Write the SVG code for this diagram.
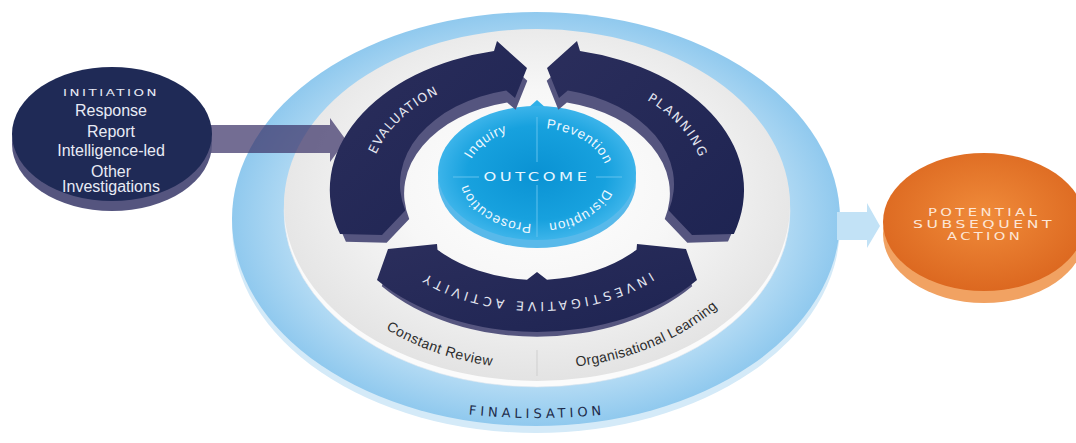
<svg xmlns="http://www.w3.org/2000/svg" width="1076" height="443" viewBox="0 0 1076 443">
<defs>
  <radialGradient id="gRing" cx="0.5" cy="0.5" r="0.5">
    <stop offset="0" stop-color="#d4ebf9"/>
    <stop offset="0.8" stop-color="#b4dbf4"/>
    <stop offset="1" stop-color="#90c9ee"/>
  </radialGradient>
  <radialGradient id="gDisc" cx="0.5" cy="0.45" r="0.55">
    <stop offset="0" stop-color="#ffffff"/>
    <stop offset="0.5" stop-color="#f7f7f7"/>
    <stop offset="1" stop-color="#e3e3e3"/>
  </radialGradient>
  <linearGradient id="gNavy" x1="0" y1="0" x2="1" y2="1">
    <stop offset="0" stop-color="#2b2e5c"/>
    <stop offset="1" stop-color="#1e2452"/>
  </linearGradient>
  <radialGradient id="gBlue" cx="0.5" cy="0.5" r="0.5">
    <stop offset="0" stop-color="#0a92d3"/>
    <stop offset="0.7" stop-color="#17a1de"/>
    <stop offset="1" stop-color="#3cb4ea"/>
  </radialGradient>
  <radialGradient id="gOrange" cx="0.5" cy="0.45" r="0.55">
    <stop offset="0" stop-color="#f08b3a"/>
    <stop offset="1" stop-color="#dc6820"/>
  </radialGradient>
  <path id="pEval" d="M379,226.3 A168,115 0 0 1 510.7,73.4"/>
  <path id="pPlan" d="M563.2,73.4 A168,115 0 0 1 694.9,226.3"/>
  <path id="pInv" d="M694.9,226.3 A168,115 0 0 1 379,226.3"/>
  <path id="pInq" d="M467,176 A70,48 0 0 1 524.8,128.7"/>
  <path id="pPrev" d="M540.7,128.1 A70,48 0 0 1 606.5,170.1"/>
  <path id="pDis" d="M606.5,181.9 A70,48 0 0 1 540.7,223.9"/>
  <path id="pPros" d="M533.3,223.9 A70,48 0 0 1 467.5,181.9"/>
  <path id="pCR" d="M320,263.4 A234,169 0 0 0 585.7,365.3"/>
  <path id="pOL" d="M502.4,367.1 A234,169 0 0 0 758.8,253.6"/>
  <path id="pFin" d="M420.5,407.8 A450,300 0 0 0 653.5,407.8"/>
</defs>
<style>
  .nv{fill:url(#gNavy)}
  .sd{fill:#55557f}
  .lbl{font-family:"DejaVu Sans","Liberation Sans",sans-serif;font-size:12.5px;fill:#e4e6f0}
  .dl{font-family:"Liberation Sans",Arial,sans-serif;font-size:13.5px;fill:#eef8ff;letter-spacing:0.8px}
  .gr{font-family:"Liberation Sans",Arial,sans-serif;font-size:14px;fill:#2c2c2c}
  .wide{font-family:"DejaVu Sans","Liberation Sans",sans-serif}
  .nt{font-family:"Liberation Sans",Arial,sans-serif;font-size:16px;fill:#e8ebf5;text-anchor:middle}
  .dline{stroke:#62c2ee;stroke-width:1}
</style>
<rect width="1076" height="443" fill="#ffffff"/>

<g id="finalisation">
  <ellipse cx="536" cy="226" rx="304" ry="207" fill="#d4eaf8"/>
  <ellipse cx="536" cy="219" rx="304" ry="207" fill="url(#gRing)"/>
  <ellipse cx="537" cy="211" rx="253" ry="176" fill="#fbfbfb" stroke="#dde6ee" stroke-width="0.6"/>
  <ellipse cx="537" cy="205" rx="253" ry="176" fill="url(#gDisc)"/>
  <line x1="537" y1="350" x2="537" y2="376" stroke="#cfcfcf" stroke-width="1"/>
  <text class="wide" font-size="13" fill="#1d2b4a" letter-spacing="4" text-anchor="middle"><textPath href="#pFin" startOffset="50%">FINALISATION</textPath></text>
</g>

<g id="review">
  <text class="gr" letter-spacing="0.5" text-anchor="middle"><textPath href="#pCR" startOffset="50%">Constant Review</textPath></text>
  <text class="gr" letter-spacing="0.3" text-anchor="middle"><textPath href="#pOL" startOffset="51%">Organisational Learning</textPath></text>
</g>

<g id="connectors">
  <polygon points="208,125 330,125 330,118 346,140 330,162 330,153 208,153" fill="#3d3569" fill-opacity="0.72"/>
  <polygon points="837,212 867,212 867,203 880,226 867,248 867,240 837,240" fill="#c2e2f6"/>
</g>

<g id="outcome">
  <ellipse cx="537" cy="181" rx="99" ry="67" fill="#58b9ea"/>
  <polygon points="527,109 537,100 547,109" fill="#2fb0e8"/>
  <ellipse cx="537" cy="173" rx="99" ry="67" fill="url(#gBlue)"/>
  <line class="dline" x1="537" y1="117" x2="537" y2="162"/>
  <line class="dline" x1="537" y1="185" x2="537" y2="237"/>
  <line class="dline" x1="453" y1="177" x2="479" y2="177"/>
  <line class="dline" x1="596" y1="177" x2="622" y2="177"/>
  <text class="wide" x="537" y="181" font-size="11.5" fill="#e6f6ff" letter-spacing="2.5" text-anchor="middle" textLength="107" lengthAdjust="spacingAndGlyphs">OUTCOME</text>
  <text class="dl" text-anchor="middle"><textPath href="#pInq" startOffset="50%">Inquiry</textPath></text>
  <text class="dl" text-anchor="middle"><textPath href="#pPrev" startOffset="50%">Prevention</textPath></text>
  <text class="dl" text-anchor="middle"><textPath href="#pDis" startOffset="50%">Disruption</textPath></text>
  <text class="dl" text-anchor="middle"><textPath href="#pPros" startOffset="50%">Prosecution</textPath></text>
</g>

<g id="evaluation">
  <path class="sd" transform="matrix(0.97 0 0 0.97 16.11 14.7)" d="M340,234 A207,142 0 0 1 494,51 L497,41 L527,68 L515,98 L506.2,90.5 A137,96 0 0 0 405.3,210.5 L382,235 Z"/>
  <path class="nv" d="M340,234 A207,142 0 0 1 494,51 L497,41 L527,68 L515,98 L506.2,90.5 A137,96 0 0 0 405.3,210.5 L382,235 Z"/>
  <text class="lbl" letter-spacing="1.2" text-anchor="middle"><textPath href="#pEval" startOffset="50%">EVALUATION</textPath></text>
</g>

<g id="planning">
  <path class="sd" transform="matrix(0.97 0 0 0.97 16.11 14.7)" d="M733.9,233.9 A207,142 0 0 0 580,51.1 L577,41 L547,68 L559,98 L567.8,90.5 A137,96 0 0 1 668.7,210.5 L692,235 Z"/>
  <path class="nv" d="M733.9,233.9 A207,142 0 0 0 580,51.1 L577,41 L547,68 L559,98 L567.8,90.5 A137,96 0 0 1 668.7,210.5 L692,235 Z"/>
  <text class="lbl" letter-spacing="2" text-anchor="middle"><textPath href="#pPlan" startOffset="54%">PLANNING</textPath></text>
</g>

<g id="investigative-activity">
  <path class="sd" transform="matrix(0.97 0 0 0.97 16.11 14.7)" d="M377,280 A207,142 0 0 0 697,280 L686,249 L637,244 L636.5,249.7 A137,96 0 0 1 547,279.7 L537,272 L527,279.7 A137,96 0 0 1 437.5,249.7 L437,244 L388,249 Z"/>
  <path class="nv" d="M377,280 A207,142 0 0 0 697,280 L686,249 L637,244 L636.5,249.7 A137,96 0 0 1 547,279.7 L537,272 L527,279.7 A137,96 0 0 1 437.5,249.7 L437,244 L388,249 Z"/>
  <text class="lbl" font-size="13" letter-spacing="3.8" text-anchor="middle"><textPath href="#pInv" startOffset="50%">INVESTIGATIVE ACTIVITY</textPath></text>
</g>

<g id="initiation">
  <ellipse cx="112" cy="144" rx="100" ry="67" fill="#55557f"/>
  <ellipse cx="112" cy="134" rx="100" ry="67" fill="#1f2a56"/>
  <text class="wide" x="111" y="96" font-size="9.5" fill="#e8ebf5" letter-spacing="1.8" text-anchor="middle" textLength="96" lengthAdjust="spacingAndGlyphs">INITIATION</text>
  <text class="nt" x="111" y="116">Response</text>
  <text class="nt" x="111" y="137">Report</text>
  <text class="nt" x="111" y="156">Intelligence-led</text>
  <text class="nt" x="111" y="177">Other</text>
  <text class="nt" x="111" y="192">Investigations</text>
</g>

<g id="potential-subsequent-action">
  <ellipse cx="984" cy="234" rx="101" ry="69" fill="#f1a262"/>
  <ellipse cx="984" cy="222" rx="101" ry="69" fill="url(#gOrange)"/>
  <text class="wide" x="984" y="216" font-size="11" fill="#fde6d6" letter-spacing="2.5" text-anchor="middle" textLength="112" lengthAdjust="spacingAndGlyphs">POTENTIAL</text>
  <text class="wide" x="984" y="228" font-size="11" fill="#fde6d6" letter-spacing="2.5" text-anchor="middle" textLength="142" lengthAdjust="spacingAndGlyphs">SUBSEQUENT</text>
  <text class="wide" x="985" y="240" font-size="11" fill="#fde6d6" letter-spacing="2.5" text-anchor="middle" textLength="76" lengthAdjust="spacingAndGlyphs">ACTION</text>
</g>
</svg>
